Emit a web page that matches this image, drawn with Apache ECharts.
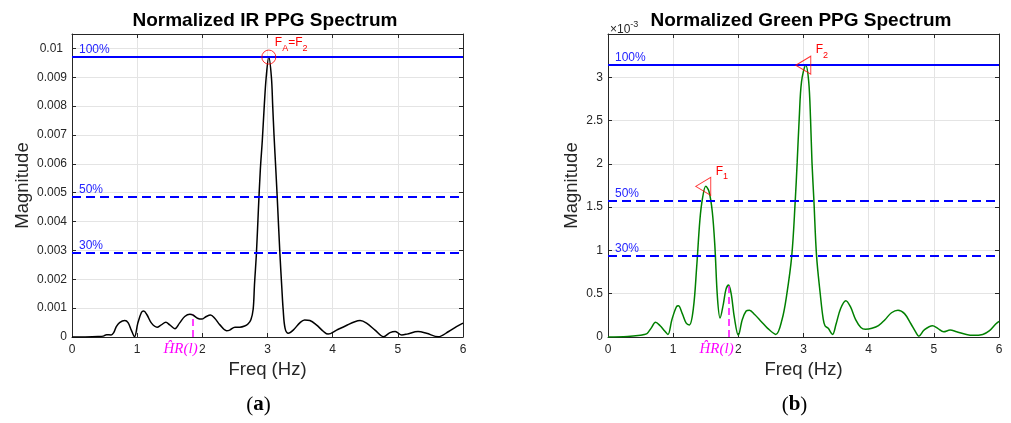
<!DOCTYPE html>
<html>
<head>
<meta charset="utf-8">
<title>Normalized PPG Spectra</title>
<script src="https://cdn.jsdelivr.net/npm/echarts@6.0.0/dist/echarts.min.js"></script>
<style>
  html, body { margin: 0; padding: 0; background: #ffffff; }
  #c { width: 1011px; height: 423px; }
</style>
</head>
<body>
<div id="c"></div>
<script>
// ---- IR PPG spectrum (magnitude, linear units) ----
const irFreq = [0, 0.2, 0.4, 0.48, 0.53, 0.6, 0.64, 0.68, 0.73, 0.81,
  0.86, 0.91, 0.96, 1.01, 1.065, 1.10, 1.15, 1.22, 1.305, 1.37,
  1.44, 1.5, 1.58, 1.65, 1.73, 1.81, 1.85, 1.935, 1.99, 2.06,
  2.125, 2.19, 2.27, 2.37, 2.42, 2.5, 2.575, 2.65, 2.70, 2.745,
  2.78, 2.80, 2.83, 2.86, 2.89, 2.92, 2.95, 2.98, 3.02, 3.06,
  3.08, 3.10, 3.13, 3.15, 3.19, 3.22, 3.24, 3.27, 3.32, 3.395,
  3.5, 3.57, 3.65, 3.75, 3.86, 3.93, 4.06, 4.21, 4.34, 4.42,
  4.52, 4.65, 4.78, 4.88, 4.96, 5.06, 5.14, 5.31, 5.44, 5.62,
  5.78, 5.9, 6.0];
const irMag = [0, 0.003e-3, 0.015e-3, 0.03e-3, 0.08e-3, 0.07e-3, 0.15e-3, 0.36e-3, 0.50e-3, 0.57e-3,
  0.50e-3, 0.24e-3, 0.01e-3, 0.48e-3, 0.85e-3, 0.90e-3, 0.77e-3, 0.48e-3, 0.34e-3, 0.42e-3,
  0.51e-3, 0.42e-3, 0.29e-3, 0.48e-3, 0.71e-3, 0.79e-3, 0.77e-3, 0.64e-3, 0.62e-3, 0.71e-3,
  0.76e-3, 0.65e-3, 0.42e-3, 0.22e-3, 0.24e-3, 0.34e-3, 0.34e-3, 0.38e-3, 0.45e-3, 0.60e-3,
  0.96e-3, 1.8e-3, 2.9e-3, 4.4e-3, 5.8e-3, 6.8e-3, 8.0e-3, 9.0e-3, 9.7e-3, 9.0e-3,
  8.0e-3, 7.0e-3, 5.7e-3, 4.8e-3, 2.9e-3, 1.7e-3, 0.96e-3, 0.30e-3, 0.13e-3, 0.24e-3,
  0.50e-3, 0.59e-3, 0.57e-3, 0.42e-3, 0.19e-3, 0.10e-3, 0.24e-3, 0.40e-3, 0.53e-3, 0.57e-3,
  0.48e-3, 0.24e-3, 0.01e-3, 0.15e-3, 0.19e-3, 0.07e-3, 0.10e-3, 0.19e-3, 0.13e-3, 0.01e-3,
  0.19e-3, 0.36e-3, 0.48e-3];

// ---- Green PPG spectrum (magnitude in units of 10^-3) ----
const greenFreq = [0, 0.3, 0.5, 0.56, 0.6, 0.66, 0.73, 0.8, 0.87, 0.92,
  0.98, 1.05, 1.08, 1.14, 1.2, 1.25, 1.31, 1.36, 1.41, 1.45,
  1.5, 1.55, 1.6, 1.64, 1.68, 1.72, 1.77, 1.81, 1.85, 1.89,
  1.94, 2.0, 2.06, 2.12, 2.17, 2.25, 2.35, 2.45, 2.575, 2.67,
  2.74, 2.82, 2.873, 2.903, 2.934, 2.97, 3.035, 3.08, 3.108, 3.13,
  3.16, 3.20, 3.26, 3.30, 3.33, 3.38, 3.445, 3.5, 3.57, 3.65,
  3.72, 3.8, 3.88, 3.95, 4.05, 4.15, 4.25, 4.35, 4.45, 4.55,
  4.65, 4.72, 4.77, 4.85, 4.98, 5.06, 5.15, 5.25, 5.35, 5.5,
  5.6, 5.75, 5.85, 5.95, 6.0];
const greenMag = [0, 0.005, 0.02, 0.03, 0.04, 0.1, 0.17, 0.13, 0.07, 0.03,
  0.2, 0.35, 0.36, 0.27, 0.16, 0.14, 0.33, 0.8, 1.35, 1.6,
  1.74, 1.68, 1.45, 1.05, 0.45, 0.22, 0.38, 0.55, 0.6, 0.5,
  0.22, 0.02, 0.2, 0.3, 0.31, 0.26, 0.18, 0.1, 0.03, 0.2,
  0.476, 0.94, 1.57, 2.02, 2.52, 2.95, 3.14, 2.95, 2.52, 2.02,
  1.57, 0.94, 0.476, 0.22, 0.13, 0.1, 0.03, 0.15, 0.33, 0.42,
  0.35, 0.2, 0.11, 0.09, 0.1, 0.13, 0.2, 0.28, 0.31, 0.27,
  0.15, 0.06, 0.01, 0.08, 0.13, 0.1, 0.06, 0.08, 0.06, 0.03,
  0.02, 0.03, 0.07, 0.15, 0.18];

// ---- annotations ----
const levelPercents = [100, 50, 30];
const hrFreq = 1.85;                 // heart-rate estimate HR^(l)
const xTickValues = [0, 1, 2, 3, 4, 5, 6];
const titles = ['Normalized IR PPG Spectrum', 'Normalized Green PPG Spectrum'];
const captions = ['a', 'b'];

// ---- styling ----
const FONT = '"Liberation Sans", Arial, Helvetica, sans-serif';
const SERIF = '"Liberation Serif", "Times New Roman", serif';
const AX = '#262626';
const GRIDC = '#e4e4e4';
const BLUE = '#0000ff';
const RED = '#ff0000';
const MAGENTA = '#ff00ff';

const gridBoxes = [
  { left: 72, top: 34, width: 391, height: 303 },
  { left: 608, top: 34, width: 391, height: 303 }
];

function peakOf(fr, mag, lo, hi) {
  let best = -1;
  for (let i = 0; i < fr.length; i++) {
    if (fr[i] >= lo && fr[i] <= hi && (best < 0 || mag[i] > mag[best])) best = i;
  }
  return [fr[best], mag[best]];
}
const valueAt = (fr, mag, f) => mag[fr.indexOf(f)];

const irPeak = peakOf(irFreq, irMag, 2.5, 3.5);
const greenF1 = peakOf(greenFreq, greenMag, 1.2, 1.8);
const greenF2 = peakOf(greenFreq, greenMag, 2.5, 3.5);
const irHr = [hrFreq, valueAt(irFreq, irMag, hrFreq)];
const greenHr = [hrFreq, valueAt(greenFreq, greenMag, hrFreq)];

const tickStyle = { show: true, inside: true, length: 4, lineStyle: { color: AX, width: 1 } };
const lineStyle = { show: true, onZero: false, lineStyle: { color: AX, width: 1 } };

function xAxesFor(gi) {
  return [
    { type: 'value', gridIndex: gi, position: 'bottom', min: xTickValues[0],
      max: xTickValues[xTickValues.length - 1], interval: 1,
      axisLine: lineStyle, axisTick: tickStyle,
      axisLabel: { color: AX, fontSize: 12, fontFamily: FONT, margin: 7 },
      splitLine: { show: true, lineStyle: { color: GRIDC, width: 1 } } },
    { type: 'value', gridIndex: gi, position: 'top', min: xTickValues[0],
      max: xTickValues[xTickValues.length - 1], interval: 1,
      axisLine: lineStyle, axisTick: tickStyle,
      axisLabel: { show: false }, splitLine: { show: false } }
  ];
}

function yAxesFor(gi, max, interval, formatter, rich) {
  return [
    { type: 'value', gridIndex: gi, position: 'left', min: 0, max: max, interval: interval,
      axisLine: lineStyle, axisTick: tickStyle,
      axisLabel: { color: AX, fontSize: 12, fontFamily: FONT, margin: 5,
        showMaxLabel: false, formatter: formatter, rich: rich },
      splitLine: { show: true, lineStyle: { color: GRIDC, width: 1 } } },
    { type: 'value', gridIndex: gi, position: 'right', min: 0, max: max, interval: interval,
      axisLine: lineStyle, axisTick: tickStyle,
      axisLabel: { show: false }, splitLine: { show: false } }
  ];
}

function levelLines(peakValue) {
  return levelPercents.map(p => ({
    yAxis: peakValue * p / 100,
    lineStyle: { color: BLUE, width: 2, type: p === 100 ? 'solid' : [9, 5] },
    label: { show: true, formatter: p + '%', position: 'insideStartTop',
      color: '#2424ff', fontSize: 12, fontFamily: FONT, distance: [7, 1] }
  }));
}

function hrLine(pt) {
  return [
    { coord: [pt[0], 0], lineStyle: { color: MAGENTA, width: 1.5, type: [7, 4] }, label: { show: false } },
    { coord: [pt[0], pt[1]] }
  ];
}

const hollow = { color: 'rgba(0,0,0,0)', borderColor: RED, borderWidth: 1 };
const leftTriangle = 'path://M0,9L15,0L15,18Z';

const option = {
  animation: false,
  backgroundColor: '#ffffff',
  grid: gridBoxes.map(b => Object.assign({ containLabel: false, outerBoundsMode: 'none', show: false }, b)),
  xAxis: xAxesFor(0).concat(xAxesFor(1)),
  yAxis: yAxesFor(0, 0.0105, 0.001,
      v => { const s = String(+v.toFixed(4)); return s === '0.01' ? '{w|' + s + '}' : s; },
      { w: { padding: [0, 4, 0, 0], color: AX, fontSize: 12, fontFamily: FONT } })
    .concat(yAxesFor(1, 3.5, 0.5, v => String(+v.toFixed(2)))),
  series: [
    { type: 'line', xAxisIndex: 0, yAxisIndex: 0, smooth: 0.35, showSymbol: false, silent: true,
      data: irFreq.map((f, i) => [f, irMag[i]]),
      lineStyle: { color: '#000000', width: 1.5 }, z: 3,
      markLine: { symbol: ['none', 'none'], silent: true, animation: false, precision: 8,
        data: levelLines(irPeak[1]).concat([hrLine(irHr)]) } },
    { type: 'scatter', xAxisIndex: 0, yAxisIndex: 0, silent: true, z: 5,
      data: [irPeak], symbol: 'circle', symbolSize: 14, itemStyle: hollow },

    { type: 'line', xAxisIndex: 2, yAxisIndex: 2, smooth: 0.35, showSymbol: false, silent: true,
      data: greenFreq.map((f, i) => [f, greenMag[i]]),
      lineStyle: { color: '#008000', width: 1.5 }, z: 3,
      markLine: { symbol: ['none', 'none'], silent: true, animation: false, precision: 8,
        data: levelLines(greenF2[1]).concat([hrLine(greenHr)]) } },
    { type: 'scatter', xAxisIndex: 2, yAxisIndex: 2, silent: true, z: 5,
      data: [greenF1, greenF2], symbol: leftTriangle, symbolSize: [15, 18],
      symbolOffset: [-2.5, 0], itemStyle: hollow }
  ]
};

const chart = echarts.init(document.getElementById('c'), null, { renderer: 'canvas', width: 1011, height: 423 });
chart.setOption(option);

// ---- text annotations placed through the axes ----
const toPx = (gi, x, y) => chart.convertToPixel({ xAxisIndex: gi * 2, yAxisIndex: gi * 2 }, [x, y]);
const subRich = color => ({
  m: { fontSize: 12, fontFamily: FONT, fill: color, lineHeight: 20, verticalAlign: 'middle' },
  s: { fontSize: 9, fontFamily: FONT, fill: color, lineHeight: 9, verticalAlign: 'bottom' }
});

const graphics = [];
gridBoxes.forEach((b, gi) => {
  const cx = b.left + b.width / 2;
  graphics.push({ type: 'text', x: cx - 2.5, y: 21, silent: true,
    style: { text: titles[gi], fill: '#000000', fontSize: 19, fontWeight: 'bold', fontFamily: FONT,
      align: 'center', verticalAlign: 'middle' } });
  graphics.push({ type: 'text', x: cx, y: 370, silent: true,
    style: { text: 'Freq (Hz)', fill: AX, fontSize: 18.5, fontFamily: FONT,
      align: 'center', verticalAlign: 'middle' } });
  graphics.push({ type: 'text', x: gi === 0 ? 23 : 572, y: b.top + b.height / 2, rotation: Math.PI / 2, silent: true,
    style: { text: 'Magnitude', fill: AX, fontSize: 18.5, fontFamily: FONT,
      align: 'center', verticalAlign: 'middle' } });
  graphics.push({ type: 'text', x: cx - 9, y: 405, silent: true,
    style: { text: '{n|(}{b|' + captions[gi] + '}{n|)}', align: 'center', verticalAlign: 'middle',
      rich: { n: { fontSize: 21, fontFamily: SERIF, fill: '#000000' },
              b: { fontSize: 21, fontFamily: SERIF, fontWeight: 'bold', fill: '#000000' } } } });
});

// exponent of the green magnitude axis
graphics.push({ type: 'text', x: gridBoxes[1].left + 2, y: 20, silent: true,
  style: { text: '{m|\u00d710}{s|-3}', align: 'left', verticalAlign: 'top',
    rich: { m: { fontSize: 12, fontFamily: FONT, fill: AX, lineHeight: 16, verticalAlign: 'bottom' },
            s: { fontSize: 9, fontFamily: FONT, fill: AX, lineHeight: 9, verticalAlign: 'top' } } } });

// peak labels
const pIr = toPx(0, irPeak[0], irPeak[1]);
graphics.push({ type: 'text', x: pIr[0] + 6, y: pIr[1] - 24, silent: true,
  style: { text: '{m|F}{s|A}{m|=F}{s|2}', align: 'left', verticalAlign: 'top', rich: subRich(RED) } });
[[greenF1, '1'], [greenF2, '2']].forEach(([pt, k]) => {
  const p = toPx(1, pt[0], pt[1]);
  graphics.push({ type: 'text', x: p[0] + 10, y: p[1] - 25, silent: true,
    style: { text: '{m|F}{s|' + k + '}', align: 'left', verticalAlign: 'top', rich: subRich(RED) } });
});

// heart-rate labels under the axis
[[0, irHr], [1, greenHr]].forEach(([gi, pt]) => {
  const p = toPx(gi, pt[0], 0);
  graphics.push({ type: 'text', x: p[0] - 12, y: 349, silent: true, z: 10,
    style: { text: 'H\u0302R(l)', fill: MAGENTA, fontSize: 15, fontStyle: 'italic', fontFamily: SERIF,
      align: 'center', verticalAlign: 'middle' } });
});

chart.setOption({ graphic: graphics });
</script>
</body>
</html>
